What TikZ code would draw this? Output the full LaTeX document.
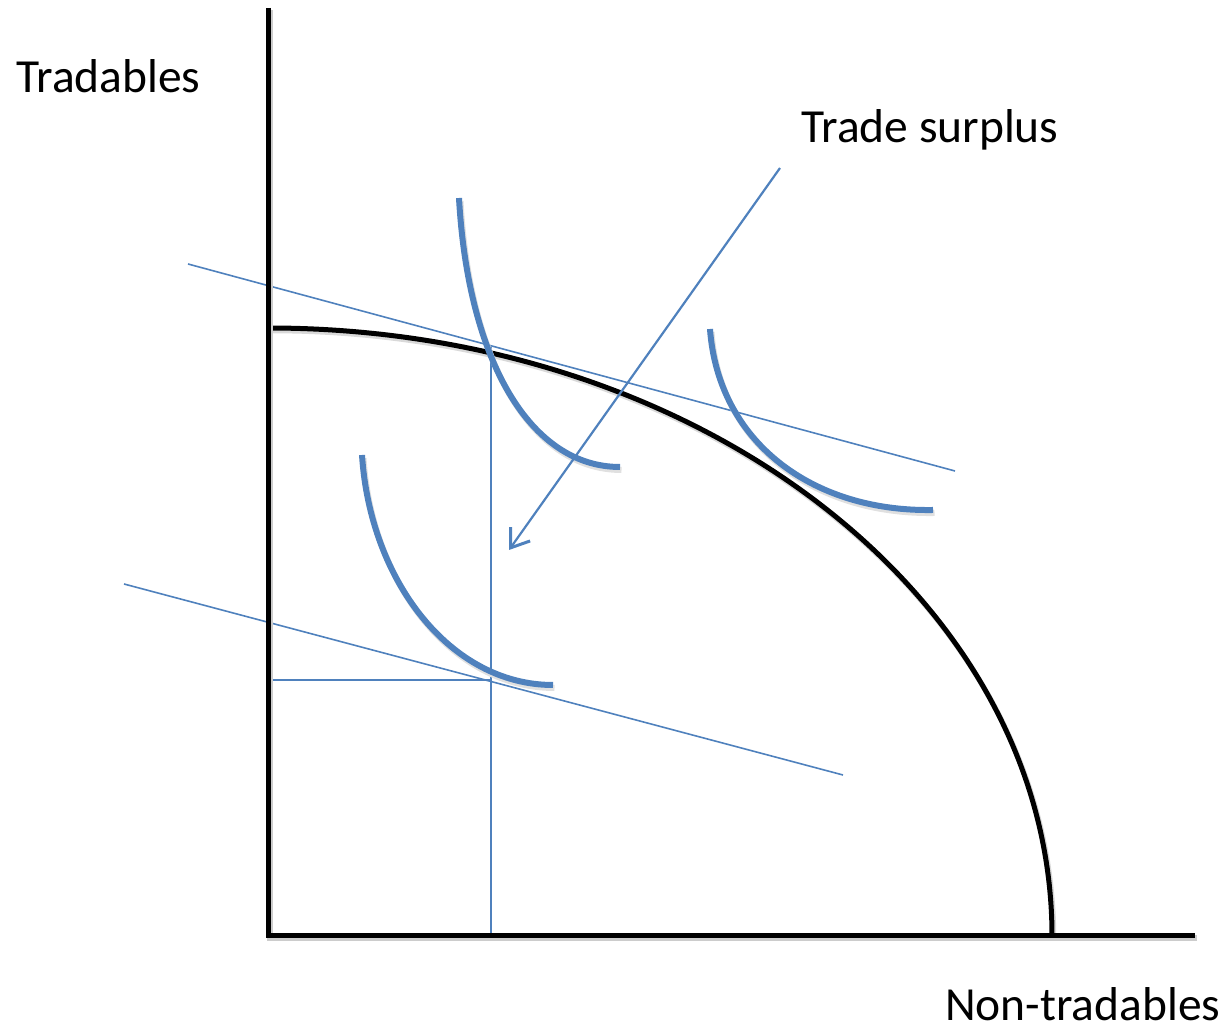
\documentclass[tikz,border=0pt]{standalone}
\usepackage{fontspec}
\setmainfont{Carlito}
\usetikzlibrary{arrows.meta}
\definecolor{officeblue}{HTML}{4F81BD}
\begin{document}
\begin{tikzpicture}[x=1pt,y=1pt,
  axisline/.style={line width=5pt,black,preaction={draw=black!20,line width=6pt,transform canvas={xshift=1.5pt,yshift=-2.5pt}}},
  frontier/.style={line width=5pt,black,preaction={draw=black!15,line width=5.5pt,transform canvas={xshift=1.5pt,yshift=-2.5pt}}},
  icurve/.style={line width=6pt,officeblue,preaction={draw=black!12,line width=6pt,transform canvas={xshift=1.5pt,yshift=-3pt}}},
  thinline/.style={line width=1.6pt,officeblue},
  arrowline/.style={line width=2.2pt,officeblue,-{Straight Barb[length=17pt,width=24pt,line width=3pt]}},
  lbl/.style={font=\fontsize{47.5}{52}\selectfont,inner sep=0pt,anchor=base west}]
\useasboundingbox (0,0) rectangle (1227,1028);

% coordinates
\coordinate (O) at (268,92);
\coordinate (ytop) at (268,1020);
\coordinate (xend) at (1195,92);
\coordinate (fstart) at (268,700);
\coordinate (ub1) at (188,764);
\coordinate (ub2) at (955,557);
\coordinate (lb1) at (124,444);
\coordinate (lb2) at (843,253);
\coordinate (A) at (491,681);
\coordinate (Abase) at (491,92);
\coordinate (B) at (491,348);
\coordinate (Baxis) at (268,348);
\coordinate (arrS) at (780,860);
\coordinate (arrE) at (509,478);

% budget lines and guides
\draw[thinline] (ub1) -- (ub2);
\draw[thinline] (lb1) -- (lb2);
\draw[thinline] (A) -- (Abase);
\draw[thinline] (B) -- (Baxis);

% frontier
\draw[frontier] (fstart) arc[start angle=90,end angle=0,x radius=784,y radius=608];

% indifference curves
\draw[icurve] (459,830) .. controls (468,668) and (530,561) .. (620,561);
\draw[icurve] (710,699) .. controls (718,588) and (810,516) .. (933,518);
\draw[icurve] (362,573) .. controls (370,448) and (450,343) .. (553,343);

% axes
\draw[axisline] (ytop) -- (O) -- (xend);

% arrow
\draw[arrowline] (arrS) -- (arrE);

% labels
\node[lbl] (tlab) at (16,935) {Tradables};
\node[lbl] (slab) at (801,885) {Trade surplus};
\node[lbl] (nlab) at (945,7) {Non-tradables};
\end{tikzpicture}
\end{document}
